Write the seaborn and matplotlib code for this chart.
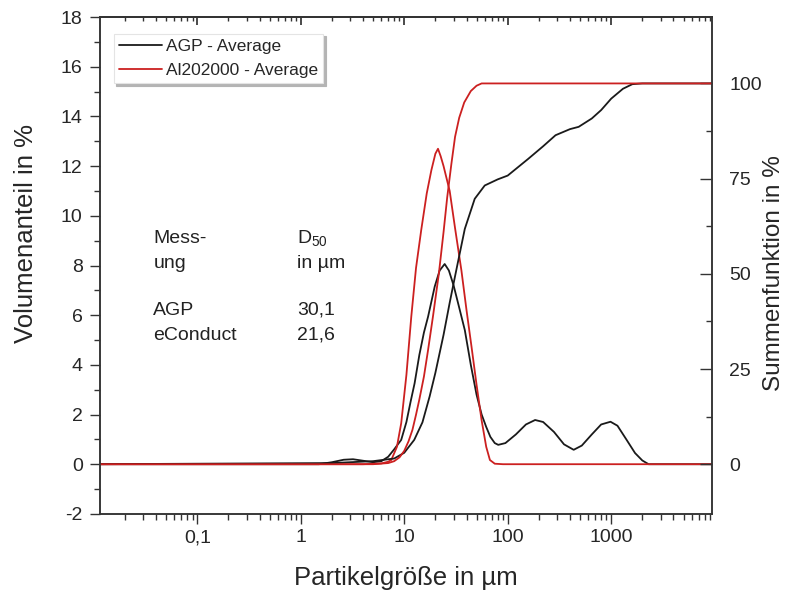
import matplotlib
matplotlib.use("Agg")
import numpy as np
import pandas as pd
import matplotlib.pyplot as plt
import seaborn as sns
from matplotlib.ticker import FixedLocator, FuncFormatter, LogLocator, MultipleLocator, NullFormatter

# ---------------- data ----------------
agp_x = [0.01, 1.5, 2.0, 2.6, 3.2, 4.0, 5.0, 6.0, 7.0, 8.0, 9.35, 10.5, 11.5, 12.6, 14.0, 15.5,
         17.0, 19.7, 22.0, 24.6, 27.0, 30.0, 34.0, 38.5, 44.0, 50.0, 56.0, 62.0, 68.0, 75.0, 81.0,
         95.0, 120.0, 150.0, 184.0, 220.0, 280.0, 350.0, 434.0, 520.0, 650.0, 800.0, 985.0,
         1150.0, 1400.0, 1700.0, 2000.0, 2300.0, 10000.0]
agp_density = [0.0, 0.0, 0.08, 0.18, 0.2, 0.14, 0.08, 0.12, 0.3, 0.6, 0.98, 1.7, 2.5, 3.26, 4.4, 5.3,
               5.94, 7.15, 7.8, 8.06, 7.8, 7.2, 6.3, 5.4, 4.0, 2.8, 2.0, 1.5, 1.1, 0.85, 0.78,
               0.85, 1.2, 1.6, 1.78, 1.7, 1.3, 0.8, 0.58, 0.75, 1.2, 1.6, 1.71,
               1.55, 1.0, 0.45, 0.15, 0.0, 0.0]

al_x = [0.01, 4.0, 6.0, 7.0, 7.5, 8.5, 9.35, 10.5, 11.7, 13.0, 14.6, 16.5, 18.3, 20.0, 21.2, 22.5,
        24.0, 27.5, 31.0, 35.7, 40.0, 44.7, 50.0, 55.9, 62.0, 67.3, 75.0, 90.0, 10000.0]
al_density = [0.0, 0.0, 0.03, 0.1, 0.17, 0.7, 1.65, 3.6, 5.94, 7.9, 9.43, 10.9, 11.84, 12.5, 12.7, 12.4,
              12.0, 11.0, 9.5, 7.8, 6.2, 4.73, 3.2, 1.78, 0.7, 0.17, 0.02, 0.0, 0.0]

agp_cx = [0.01, 2.0, 5.0, 8.0, 10.0, 12.5, 15.0, 17.6, 20.0, 24.0, 27.5, 30.0, 33.0, 38.5, 48.0,
          60.0, 80.0, 100.0, 158.0, 220.0, 290.0, 400.0, 485.0, 650.0, 800.0, 1000.0, 1300.0,
          1600.0, 2000.0, 10000.0]
agp_cum = [0.0, 0.3, 0.8, 1.5, 3.0, 6.4, 11.0, 17.8, 24.0, 34.0, 42.4, 47.5, 53.0, 61.8, 69.7,
           73.2, 74.8, 75.8, 80.2, 83.5, 86.4, 88.0, 88.6, 90.8, 93.0, 96.0, 98.6,
           99.8, 100.0, 100.0]

al_cx = [0.01, 5.0, 7.0, 8.0, 9.0, 10.0, 11.0, 12.0, 13.0, 14.0, 15.5, 17.0, 19.0, 21.6, 24.0,
         26.0, 28.6, 31.0, 34.0, 38.0, 44.0, 50.0, 56.0, 10000.0]
al_cum = [0.0, 0.0, 0.3, 0.8, 1.8, 3.5, 6.0, 9.0, 13.0, 17.0, 23.0, 30.0, 39.0, 50.0, 61.0,
          70.0, 79.0, 86.0, 91.0, 95.0, 98.0, 99.4, 100.0, 100.0]

series_labels = ["AGP - Average", "Al202000 - Average"]
x_ticks = [0.01, 0.1, 1, 10, 100, 1000, 10000]
left_ticks = [-2, 0, 2, 4, 6, 8, 10, 12, 14, 16, 18]
right_ticks = [0, 25, 50, 75, 100]
table_rows = [("Mess-", "D$_{\\mathrm{50}}$"), ("ung", "in µm"), ("AGP", "30,1"), ("eConduct", "21,6")]

# ---------------- style ----------------
sns.set_theme(style="ticks")
plt.rcParams["font.family"] = ["Liberation Sans", "DejaVu Sans"]
plt.rcParams["mathtext.fontset"] = "custom"
plt.rcParams["mathtext.rm"] = "Liberation Sans"
plt.rcParams["mathtext.it"] = "Liberation Sans"
plt.rcParams["axes.unicode_minus"] = False

BLACK = "#1a1a1a"
RED = "#cc2020"
SPINE = "#333333"

fig = plt.figure(figsize=(7.88, 5.90), dpi=100)
ax = fig.add_axes([0.127, 0.129, 0.777, 0.842])
ax2 = ax.twinx()

df_agp = pd.DataFrame({"x": agp_x, "y": agp_density})
df_al = pd.DataFrame({"x": al_x, "y": al_density})
df_agp_c = pd.DataFrame({"x": agp_cx, "y": agp_cum})
df_al_c = pd.DataFrame({"x": al_cx, "y": al_cum})

sns.lineplot(data=df_agp, x="x", y="y", ax=ax, color=BLACK, lw=1.3, label=series_labels[0], legend=False)
sns.lineplot(data=df_al, x="x", y="y", ax=ax, color=RED, lw=1.3, label=series_labels[1], legend=False)
sns.lineplot(data=df_agp_c, x="x", y="y", ax=ax2, color=BLACK, lw=1.3, legend=False)
sns.lineplot(data=df_al_c, x="x", y="y", ax=ax2, color=RED, lw=1.3, legend=False)

ax.set_xscale("log")
ax.set_xlim(0.0115, 9500)
ax.set_ylim(-2, 18)
ax2.set_ylim(-2 * 100 / 15.33, 18 * 100 / 15.33)

ax.xaxis.set_major_locator(FixedLocator(x_ticks))
ax.xaxis.set_major_formatter(FuncFormatter(lambda v, p: (f"{v:g}").replace(".", ",")))
ax.xaxis.set_minor_locator(LogLocator(base=10, subs=np.arange(2, 10)))
ax.xaxis.set_minor_formatter(NullFormatter())

ax.yaxis.set_major_locator(FixedLocator(left_ticks))
ax.yaxis.set_minor_locator(MultipleLocator(1))
ax2.yaxis.set_major_locator(FixedLocator(right_ticks))
ax2.yaxis.set_minor_locator(FixedLocator([12.5, 37.5, 62.5, 87.5]))

for a in (ax, ax2):
    for s in a.spines.values():
        s.set_color(SPINE)
        s.set_linewidth(1.1)
    a.grid(False)

ax.tick_params(axis="both", which="major", labelsize=14, color=SPINE, width=1.0, length=7, direction="out", pad=4)
ax.tick_params(axis="both", which="minor", color=SPINE, width=1.0, length=4, direction="out")
ax.tick_params(axis="y", which="major", pad=5.5)
ax2.tick_params(axis="y", which="major", labelsize=14, color=SPINE, width=1.0, length=9, direction="in", pad=12)
ax2.tick_params(axis="y", which="minor", color=SPINE, width=1.0, length=4, direction="in")

top = ax.secondary_xaxis("top")
top.xaxis.set_major_locator(FixedLocator(x_ticks))
top.xaxis.set_minor_locator(LogLocator(base=10, subs=np.arange(2, 10)))
top.xaxis.set_major_formatter(NullFormatter())
top.xaxis.set_minor_formatter(NullFormatter())
top.tick_params(which="major", direction="in", length=6, color=SPINE)
top.tick_params(which="minor", direction="in", length=3, color=SPINE)
top.spines["top"].set_color(SPINE)

ax.set_xlabel("Partikelgröße in µm", fontsize=18.5, labelpad=14)
ax.set_ylabel("Volumenanteil in %", fontsize=18.5)
ax.yaxis.set_label_coords(-0.102, 0.565)
ax2.set_ylabel("Summenfunktion in %", fontsize=17.5)
ax2.yaxis.set_label_coords(1.083, 0.485)

for i, (c1, c2) in enumerate(table_rows):
    yy = [0.555, 0.505, 0.410, 0.360][i]
    ax.text(0.087, yy, c1, transform=ax.transAxes, fontsize=14, va="center", ha="left", color="#222222")
    ax.text(0.322, yy, c2, transform=ax.transAxes, fontsize=14, va="center", ha="left", color="#222222")

handles, labels = ax.get_legend_handles_labels()
leg = ax2.legend(handles, labels, loc="upper left", bbox_to_anchor=(0.022, 0.967), fontsize=12.5,
                 frameon=True, fancybox=False, edgecolor="#e4e4e4", borderpad=0.3,
                 shadow={"color": "#b4b4b4", "alpha": 1.0},
                 handlelength=2.5, handletextpad=0.2, labelspacing=0.5, borderaxespad=0)
leg.get_frame().set_linewidth(0.8)
leg.get_frame().set_alpha(1.0)

fig.savefig("out.png", dpi=100)
